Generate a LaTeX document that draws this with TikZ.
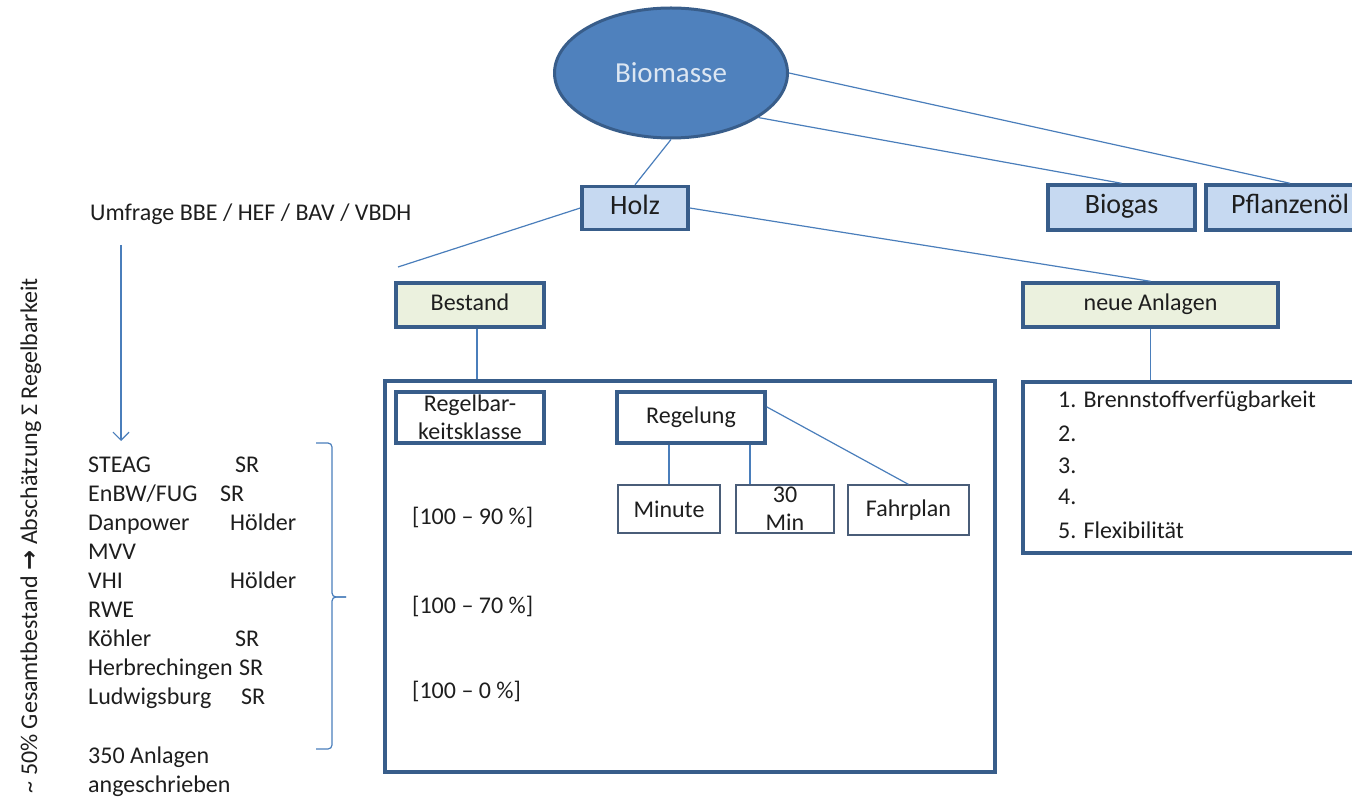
\documentclass[tikz,border=0pt]{standalone}
\usepackage{fontspec}
\setmainfont{Carlito}
\newfontfamily\arrowfont{DejaVu Sans}
\usetikzlibrary{arrows.meta,shapes.geometric}
\definecolor{boxline}{HTML}{385D8A}
\definecolor{ovalfill}{HTML}{4F81BD}
\definecolor{ovaltext}{HTML}{DCE6F2}
\definecolor{bluefill}{HTML}{C6D9F1}
\definecolor{greenfill}{HTML}{EBF1DE}
\definecolor{connline}{HTML}{4A7EBB}
\definecolor{thinline}{HTML}{4A5D78}
\definecolor{txtgray}{HTML}{1E1E1E}
\begin{document}
\begin{tikzpicture}[x=1pt,y=-1pt]
	\tikzset{block/.style={rectangle, draw=boxline, line width=3.4pt, inner sep=0pt, align=center, text=txtgray, font=\fontsize{24}{28}\selectfont},
		topblock/.style={block, fill=bluefill, text height=19pt, text depth=6pt, font=\fontsize{28}{32}\selectfont},
		subblock/.style={block, fill=greenfill, text height=17pt, text depth=5pt},
		frameblock/.style={block, fill=white},
		smallblock/.style={rectangle, draw=thinline, line width=1.2pt, inner sep=0pt, align=center, text=txtgray, font=\fontsize{24}{28}\selectfont},
		txtlabel/.style={inner sep=0pt, anchor=west, text=txtgray, text height=17pt, text depth=5pt, font=\fontsize{24}{29}\selectfont},
		conn/.style={draw=connline, line width=1.2pt}};
	\useasboundingbox (0,0) rectangle (1352,799);
	% Baum
	\node[ellipse, draw=boxline, fill=ovalfill, line width=3pt, minimum width=233pt, minimum height=130pt, inner sep=0pt, text=ovaltext, font=\fontsize{29}{34}\selectfont] (Biomasse) at (671,73) {Biomasse};
	\node[topblock, minimum width=106pt, minimum height=43pt] (Holz) at ( 635,208  ) {Holz};
	\node[topblock, minimum width=147pt, minimum height=45pt] (Biogas) at (1121.5,207.5) {Biogas};
	\node[topblock, minimum width=168pt, minimum height=45pt] (Pflanzenoel) at (1290,207.5) {Pflanzenöl};
	\node[subblock, minimum width=148pt, minimum height=44pt] (Bestand) at ( 470,305  ) {Bestand};
	\node[subblock, minimum width=255pt, minimum height=44pt] (NeueAnlagen) at (1150.5,305) {neue Anlagen};
	\node[frameblock, minimum width=610pt, minimum height=391pt] (BestandRahmen) at ( 690,576.5) {};
	\node[frameblock, minimum width=350pt, minimum height=171pt] (NeuRahmen) at (1198,467.5) {};
	\node[frameblock, minimum width=148pt, minimum height=51pt] (Regelbarkeit) at (470,417.5) {Regelbar-\\keitsklasse};
	\node[frameblock, minimum width=148pt, minimum height=51pt, text height=17pt, text depth=5pt] (Regelung) at (691,417.5) {Regelung};
	\node[smallblock, minimum width=102pt, minimum height=48pt] (Minute) at (669,509) {Minute};
	\node[smallblock, minimum width=98pt,  minimum height=48pt] (Min30) at (785,509) {30\\Min};
	\node[smallblock, minimum width=121pt, minimum height=50pt, text height=17pt, text depth=5pt] (Fahrplan) at (908.5,510) {Fahrplan};
	\node[txtlabel] (Klasse90) at (412,518) {[100 – 90 \%]};
	\node[txtlabel] (Klasse70) at (412,607) {[100 – 70 \%]};
	\node[txtlabel] (Klasse0) at (412,692) {[100 – 0 \%]};
	\foreach \y/\kriterium [count=\i] in {402/Brennstoffverfügbarkeit, 435/, 467/, 498/, 532/Flexibilität}
		\node[txtlabel] (Kriterium\i) at (1058,\y) {\i. \kriterium};
	\coordinate (HolzLinks) at (398,267);
	\draw[conn] (Biomasse.south) -- (Holz.north);
	\draw[conn] (Biomasse.-27) -- (Biogas.north);
	\draw[conn] (Biomasse.east) -- (Pflanzenoel.north);
	\draw[conn] (Holz.west) -- (HolzLinks);
	\draw[conn] (Holz.east) -- (NeueAnlagen.north);
	\draw[conn] ([xshift=7pt]Bestand.south) -- ([xshift=7pt]Bestand.south |- BestandRahmen.north);
	\draw[conn] (NeueAnlagen.south) -- (NeueAnlagen.south |- NeuRahmen.north);
	\draw[conn] (Minute.north) -- (Minute.north |- Regelung.south);
	\draw[conn] ([xshift=-35pt]Min30.north) -- ([xshift=-35pt]Min30.north |- Regelung.south);
	\draw[conn] (Regelung.8) -- (Fahrplan.north);
	% Umfrage links
	\node[txtlabel] (Umfrage) at (90,215) {Umfrage BBE / HEF / BAV / VBDH};
	\coordinate (UmfrageFuss) at (121,245);
	\coordinate (ListeKopf) at (121,441);
	\draw[conn, -{Straight Barb[length=8pt,width=16pt]}] (UmfrageFuss) -- (ListeKopf);
	\foreach \firma [count=\i from 0] in {STEAG, {EnBW/FUG}, Danpower, MVV, VHI, RWE, Köhler, Herbrechingen, Ludwigsburg}
		\node[txtlabel] (Firma\i) at (88,{466+29.1*\i}) {\firma};
	\foreach \nr/\art/\xart in {0/SR/235, 1/SR/220, 2/Hölder/230, 4/Hölder/230, 6/SR/235, 7/SR/239, 8/SR/241}
		\node[txtlabel] (Art\nr) at (\xart,{466+29.1*\nr}) {\art};
	\node[txtlabel] (Anlagen) at (88,757) {350 Anlagen};
	\node[txtlabel] (Angeschrieben) at (88,786) {angeschrieben};
	\draw[conn, rounded corners=4pt] (316,443) -| (332,597) -- (346,597);
	\draw[conn, rounded corners=4pt] (316,749) -| (332,597) -- (346,597);
	\node[txtlabel, rotate=90, anchor=east] (Summe) at (31,278) {\textasciitilde{} 50\% Gesamtbestand {\arrowfont\bfseries →} Abschätzung Σ Regelbarkeit};
\end{tikzpicture}
\end{document}
